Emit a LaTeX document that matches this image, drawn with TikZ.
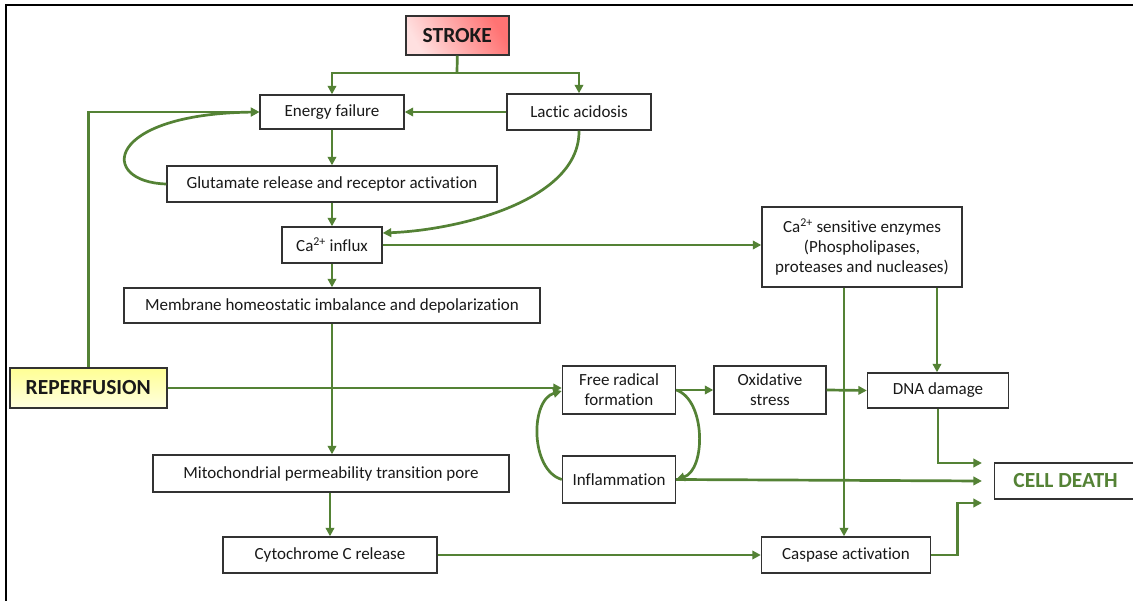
\documentclass[tikz,border=0pt]{standalone}
\usepackage{fontspec}
\setmainfont{Carlito}[Ligatures=NoCommon]
\usetikzlibrary{arrows.meta,shadings}
\definecolor{grn}{RGB}{84,130,53}
\definecolor{boxc}{RGB}{50,50,50}
\definecolor{txt}{RGB}{25,25,25}
\begin{document}
\begin{tikzpicture}[x=1pt,y=-1pt,
  bx/.style={draw=boxc, line width=1.4pt, fill=white, inner sep=0pt, align=center, text=txt,
     font=\fontsize{17}{20}\selectfont},
  big/.style={bx, font=\fontsize{21.5}{24}\selectfont\bfseries},
  ln/.style={draw=grn, line width=2.7pt},
  arr/.style={ln, -{Triangle[length=8.5pt,width=8.5pt]}}]
\useasboundingbox (0,0) rectangle (1133,601);
\fill[white] (0,0) rectangle (1133,601);
\draw[line width=1.4pt, black] (6,601) -- (6,5) -- (1133,5);

\node[big, minimum width=103pt, minimum height=39pt, left color=red!12, right color=red!55, shading angle=120] (stroke) at (457.3,35.5) {STROKE};
\node[bx, minimum width=144pt, minimum height=34pt] (ef) at (332,112) {Energy failure};
\node[bx, minimum width=144pt, minimum height=36pt] (lac) at (579,112) {Lactic acidosis};
\node[bx, minimum width=330pt, minimum height=36pt] (glu) at (332,184) {Glutamate release and receptor activation};
\node[bx, minimum width=100pt, minimum height=36pt] (ca) at (332,245) {Ca\textsuperscript{2+} influx};
\node[bx, minimum width=200pt, minimum height=80pt] (enz) at (862,247) {Ca\textsuperscript{2+} sensitive enzymes\\(Phospholipases,\\proteases and nucleases)};
\node[bx, minimum width=416pt, minimum height=35pt] (mem) at (332,305.5) {Membrane homeostatic imbalance and depolarization};
\node[big, minimum width=157pt, minimum height=40pt, top color=yellow!42, bottom color=yellow!12] (rep) at (88.3,388) {REPERFUSION};
\node[bx, minimum width=113pt, minimum height=48pt] (fr) at (619,390) {Free radical\\formation};
\node[bx, minimum width=112pt, minimum height=48pt] (ox) at (770,390) {Oxidative\\stress};
\node[bx, minimum width=141pt, minimum height=35pt] (dna) at (938,390.5) {DNA damage};
\node[bx, minimum width=113pt, minimum height=47pt] (inf) at (619,479.5) {Inflammation};
\node[big, text=grn, minimum width=142pt, minimum height=36pt] (cd) at (1065.6,481) {CELL DEATH};
\node[bx, minimum width=356pt, minimum height=37pt] (mito) at (331,473.5) {Mitochondrial permeability transition pore};
\node[bx, minimum width=214pt, minimum height=36pt] (cyto) at (330,555) {Cytochrome C release};
\node[bx, minimum width=169pt, minimum height=36pt] (casp) at (846,555) {Caspase activation};

% stroke split
\coordinate (sj) at (457,73);
\draw[ln] (stroke.south) -- (sj);
\draw[arr] (sj) -| (ef.north);
\draw[arr] (sj) -| (lac.north);
\draw[arr] (lac.west) -- (ef.east);
\draw[arr] (ef.south) -- (glu.north);
\draw[arr] (glu.west) .. controls (98,182) and (104,114) .. (ef.west);
\draw[arr] (rep.north) |- (ef.west);
\draw[arr] (glu.south) -- (ca.north);
\draw[arr] (lac.south) .. controls (580,200) and (460,230) .. ([yshift=12pt]ca.east);
\draw[arr] (ca.east) -- (ca.east -| enz.west);
\draw[arr] (ca.south) -- (mem.north);
\draw[arr] (mem.south) -- (mem.south |- mito.north);
\draw[arr] (rep.east) -- (rep.east -| fr.west);
\draw[arr] (fr.east) -- (ox.west);
\draw[arr] (ox.east) -- (dna.west);
\draw[arr] ([xshift=-18pt]enz.south) -- ([xshift=-18pt]enz.south |- casp.north);
\draw[arr] ([xshift=75pt]enz.south) -- ([xshift=75pt]enz.south |- dna.north);
\draw[arr] (inf.west) .. controls (530,470) and (530,400) .. ([yshift=-1pt]fr.west);
\draw[arr] (fr.east) .. controls (706,400) and (706,470) .. (inf.east);
\coordinate (cdm) at ([xshift=-12pt]cd.west);
\draw[arr] (inf.east) -- (cdm);
\draw[arr] (dna.south) |- ([yshift=18pt]cdm);
\draw[arr] (casp.east) -- ++(26,0) |- ([yshift=-22pt]cdm);
\draw[arr] (mito.south -| cyto.north) -- (cyto.north);
\draw[arr] (cyto.east) -- (casp.west);
\end{tikzpicture}
\end{document}
